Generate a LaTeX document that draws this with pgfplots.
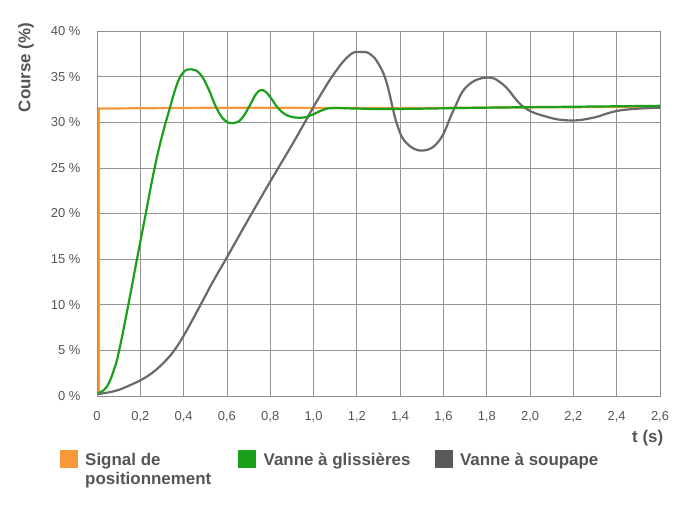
\documentclass[border=0pt]{standalone}
\usepackage{pgfplots}
\pgfplotsset{compat=1.18}
\usepackage{fontspec}
\setmainfont{Liberation Sans}
\definecolor{sigorange}{HTML}{F7993A}
\definecolor{vgreen}{HTML}{1AA01A}
\definecolor{vgray}{HTML}{6A6A6A}
\definecolor{vgraylg}{HTML}{595959}
\definecolor{txtgray}{HTML}{555555}
\begin{document}
\begin{tikzpicture}
\useasboundingbox (0,0) rectangle (687bp,525bp);
\begin{axis}[
    at={(97bp,129bp)}, anchor=south west,
    scale only axis, width=563bp, height=365bp,
    xmin=0, xmax=2.6, ymin=0, ymax=40,
    xtick={0,0.2,...,2.6},
    xticklabels={0,{0,2},{0,4},{0,6},{0,8},{1,0},{1,2},{1,4},{1,6},{1,8},{2,0},{2,2},{2,4},{2,6}},
    ytick={0,5,...,40},
    yticklabels={0 \%,5 \%,10 \%,15 \%,20 \%,25 \%,30 \%,35 \%,40 \%},
    major tick length=0pt,
    grid=major,
    major grid style={draw=black!42, line width=0.7bp},
    axis line style={draw=black!45, line width=0.8bp},
    tick label style={font=\fontsize{13}{13}\selectfont, text=txtgray},
    yticklabel style={xshift=-13bp},
    xticklabel style={yshift=-12bp},
    xlabel={t (s)},
    ylabel={Course (\%)},
    label style={font=\bfseries\fontsize{17}{17}\selectfont, text=txtgray},
    xlabel style={at={(rel axis cs:1.012,-0.115)}, anchor=east},
    ylabel style={at={(rel axis cs:-0.126,0.9)}, anchor=center},
    legend columns=3,
    legend style={at={(rel axis cs:-0.066,-0.148)}, anchor=north west,
        draw=none, fill=none, inner sep=0pt, outer sep=0pt,
        column sep=0pt,
        font=\bfseries\fontsize{17}{19.5}\selectfont, text=txtgray,
        nodes={anchor=base west, inner sep=0pt, outer sep=0pt}},
]
\addlegendimage{legend image code/.code={\fill[sigorange] (0bp,-2bp) rectangle (17bp,15bp);}}
\addlegendentry{\hspace{8bp}\parbox[t]{153bp}{Signal de\\positionnement}}
\addlegendimage{legend image code/.code={\fill[vgreen] (0bp,-2bp) rectangle (17bp,15bp);}}
\addlegendentry{\hspace{8bp}\parbox[t]{171bp}{Vanne à glissières}}
\addlegendimage{legend image code/.code={\fill[vgraylg] (0bp,-2bp) rectangle (17bp,15bp);}}
\addlegendentry{\hspace{8bp}\parbox[t]{160bp}{Vanne à soupape}}

\addplot[forget plot, sigorange, line width=2.2bp, sharp plot] coordinates {
    (0.0,0.3) (0.009,0.3) (0.009,31.5) (0.6,31.6) (1.4,31.55) (2.6,31.7)
};
\addplot[forget plot, vgray, line width=2.2bp, smooth, tension=0.7] coordinates {
    (0.003,0.2) (0.083,0.55) (0.145,1.1) (0.191,1.6) (0.253,2.5) (0.314,3.8)
    (0.360,5.1) (0.400,6.6) (0.440,8.3) (0.483,10.2) (0.537,12.6)
    (0.6,15.2) (0.7,19.4) (0.8,23.5) (0.9,27.5) (0.96,30.0)
    (1.02,32.5) (1.1,35.5) (1.169,37.4) (1.215,37.7) (1.26,37.5)
    (1.30,36.4) (1.338,34.3) (1.384,29.9) (1.43,27.7) (1.508,26.9)
    (1.584,28.1) (1.646,31.3) (1.707,33.9) (1.8,34.9) (1.877,34.1)
    (1.969,31.7) (2.077,30.6) (2.185,30.2) (2.292,30.5) (2.416,31.3)
    (2.6,31.6)
};
\addplot[forget plot, vgreen, line width=2.2bp, smooth, tension=0.7] coordinates {
    (0.003,0.3) (0.045,1.0) (0.083,3.2) (0.106,5.4) (0.129,8.1)
    (0.152,10.9) (0.183,14.8) (0.222,19.6) (0.260,24.3) (0.295,28.0)
    (0.337,31.6) (0.370,34.2) (0.400,35.5) (0.437,35.8) (0.476,35.3)
    (0.514,33.7) (0.553,31.5) (0.591,30.2) (0.630,29.9) (0.668,30.4)
    (0.707,31.9) (0.738,33.2) (0.768,33.5) (0.799,32.8) (0.838,31.5)
    (0.884,30.7) (0.945,30.5) (0.992,30.8) (1.038,31.3) (1.084,31.55)
    (1.2,31.5) (1.367,31.45) (1.8,31.6) (2.2,31.7) (2.6,31.8)
};
\end{axis}
\end{tikzpicture}
\end{document}
